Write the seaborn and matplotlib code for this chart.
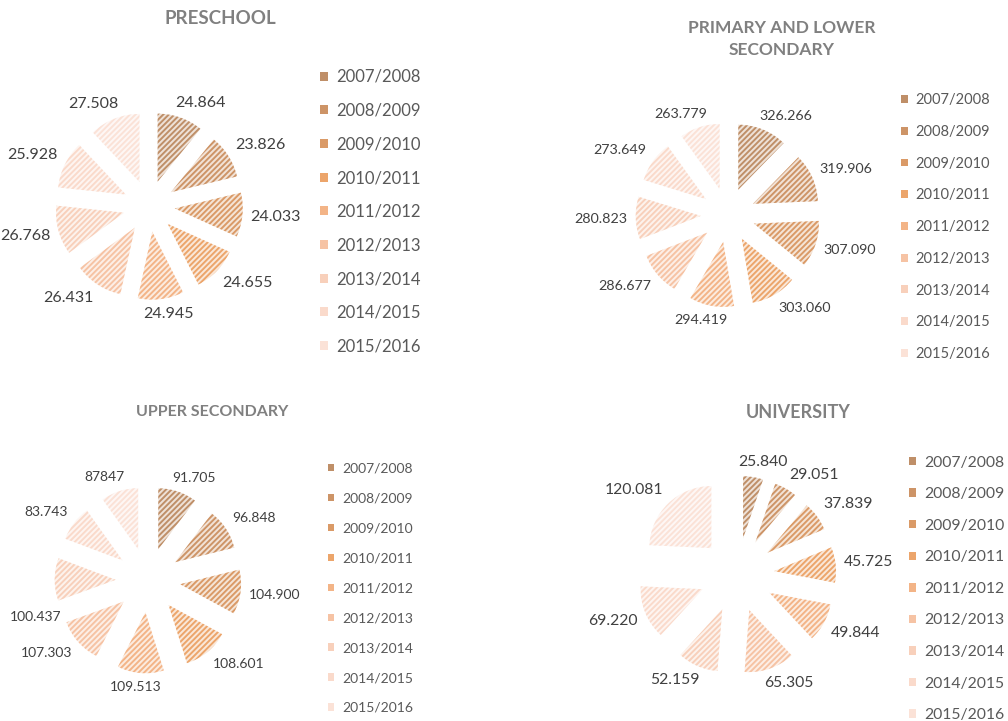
import numpy as np
import matplotlib
matplotlib.use("Agg")
import matplotlib.pyplot as plt
from matplotlib.patches import Patch
from matplotlib.colors import to_rgb
import seaborn as sns

# ---------------- data ----------------
years = ["2007/2008", "2008/2009", "2009/2010", "2010/2011", "2011/2012",
         "2012/2013", "2013/2014", "2014/2015", "2015/2016"]

preschool = [24.864, 23.826, 24.033, 24.655, 24.945, 26.431, 26.768, 25.928, 27.508]
preschool_labels = ["24.864", "23.826", "24.033", "24.655", "24.945",
                    "26.431", "26.768", "25.928", "27.508"]

primary = [326.266, 319.906, 307.090, 303.060, 294.419, 286.677, 280.823, 273.649, 263.779]
primary_labels = ["326.266", "319.906", "307.090", "303.060", "294.419",
                  "286.677", "280.823", "273.649", "263.779"]

upper = [91.705, 96.848, 104.900, 108.601, 109.513, 107.303, 100.437, 83.743, 87.847]
upper_labels = ["91.705", "96.848", "104.900", "108.601", "109.513",
                "107.303", "100.437", "83.743", "87847"]

university = [25.840, 29.051, 37.839, 45.725, 49.844, 65.305, 52.159, 69.220, 120.081]
university_labels = ["25.840", "29.051", "37.839", "45.725", "49.844",
                     "65.305", "52.159", "69.220", "120.081"]

titles = ["PRESCHOOL", "PRIMARY AND LOWER\nSECONDARY", "UPPER SECONDARY", "UNIVERSITY"]

base_colors = ["#bf8f68", "#cd9467", "#da9a67", "#eca56b", "#f3b487",
               "#f6c3a4", "#f8d0bb", "#fadacb", "#fbe2d7"]

# ---------------- style ----------------
sns.set_theme(style="white")
plt.rcParams["font.family"] = ["Lato", "DejaVu Sans"]
plt.rcParams["hatch.linewidth"] = 1.4

W, H = 1008, 721
fig = plt.figure(figsize=(W / 100, H / 100), dpi=100)
fig.patch.set_facecolor("white")

palette = sns.color_palette(base_colors)


def tint(c, f):
    r, g, b = to_rgb(c)
    return (r + (1 - r) * f, g + (1 - g) * f, b + (1 - b) * f)


panels = [
    dict(vals=preschool, labs=preschool_labels, title=titles[0],
         cx=149, cy=206, r=68, ex=0.38, lfs=11.5, adj={},
         tx=220, ty=18, tfs=13.5,
         lgx=320, lgy=79, lgfs=12, lgsp=1.06),
    dict(vals=primary, labs=primary_labels, title=titles[1],
         cx=728, cy=215, r=65, ex=0.42, lfs=10.3, adj={},
         tx=782, ty=39, tfs=12.5,
         lgx=901, lgy=102, lgfs=10.5, lgsp=1.215),
    dict(vals=upper, labs=upper_labels, title=titles[2],
         cx=148, cy=580, r=61, ex=0.53, lfs=10, adj={6: (15, -38)},
         tx=212, ty=412, tfs=11.5,
         lgx=328, lgy=471, lgfs=10, lgsp=1.29),
    dict(vals=university, labs=university_labels, title=titles[3],
         cx=737, cy=575, r=62, ex=0.6, lfs=11.3, adj={},
         tx=798, ty=413, tfs=13,
         lgx=909, lgy=465, lgfs=11.3, lgsp=1.12),
]

half = 170
renderer = fig.canvas.get_renderer()

for p in panels:
    ax = fig.add_axes([(p["cx"] - half) / W, 1 - (p["cy"] + half) / H,
                       2 * half / W, 2 * half / H])
    lim = half / p["r"]
    faces = [tint(c, 0.74) for c in palette]
    wedges, _ = ax.pie(p["vals"], explode=[p["ex"]] * len(p["vals"]),
                       startangle=90, counterclock=False, colors=faces,
                       wedgeprops=dict(linewidth=0))
    for w, c in zip(wedges, palette):
        w.set_hatch("//////")
        if hasattr(w, "set_hatchcolor"):
            w.set_hatchcolor(c)
        w.set_edgecolor(c)
        w.set_linewidth(0)
    ax.set_xlim(-lim, lim)
    ax.set_ylim(-lim, lim)
    ax.set_aspect("equal")
    ax.axis("off")

    # data labels placed just outside the arc of each wedge
    for i, (w, lab) in enumerate(zip(wedges, p["labs"])):
        th = np.deg2rad((w.theta1 + w.theta2) / 2)
        dx, dy = np.cos(th), np.sin(th)
        cx0, cy0 = w.center
        ax_pt = (cx0 + w.r * dx, cy0 + w.r * dy)
        t = ax.text(0, 0, lab, fontsize=p["lfs"], color="#404040")
        bb = t.get_window_extent(renderer)
        t.remove()
        tw, thh = bb.width, bb.height
        pad = 8
        ox = dx * pad + (tw / 2) * np.clip(2 * dx, -1, 1)
        oy = dy * pad + (thh / 2) * np.clip(2 * dy, -1, 1)
        if i in p["adj"]:
            ox += p["adj"][i][0]
            oy += p["adj"][i][1]
        ax.annotate(lab, xy=ax_pt, xytext=(ox, oy), textcoords="offset pixels",
                    ha="center", va="center", fontsize=p["lfs"], color="#404040")

    fig.text(p["tx"] / W, 1 - p["ty"] / H, p["title"], ha="center", va="center",
             fontsize=p["tfs"], fontweight="bold", color="#808080",
             linespacing=1.45)

    handles = [Patch(facecolor=c, edgecolor="none") for c in palette]
    fs_px = p["lgfs"] * 100 / 72
    ax.legend(handles, years, loc="upper left",
              bbox_to_anchor=(p["lgx"] / W, 1 - (p["lgy"] - 0.6 * fs_px) / H),
              bbox_transform=fig.transFigure, frameon=False,
              fontsize=p["lgfs"], handlelength=0.45, handleheight=0.45,
              handletextpad=0.55, labelspacing=p["lgsp"], borderpad=0,
              borderaxespad=0, labelcolor="#595959")

fig.savefig("out.png", dpi=100, facecolor="white")
